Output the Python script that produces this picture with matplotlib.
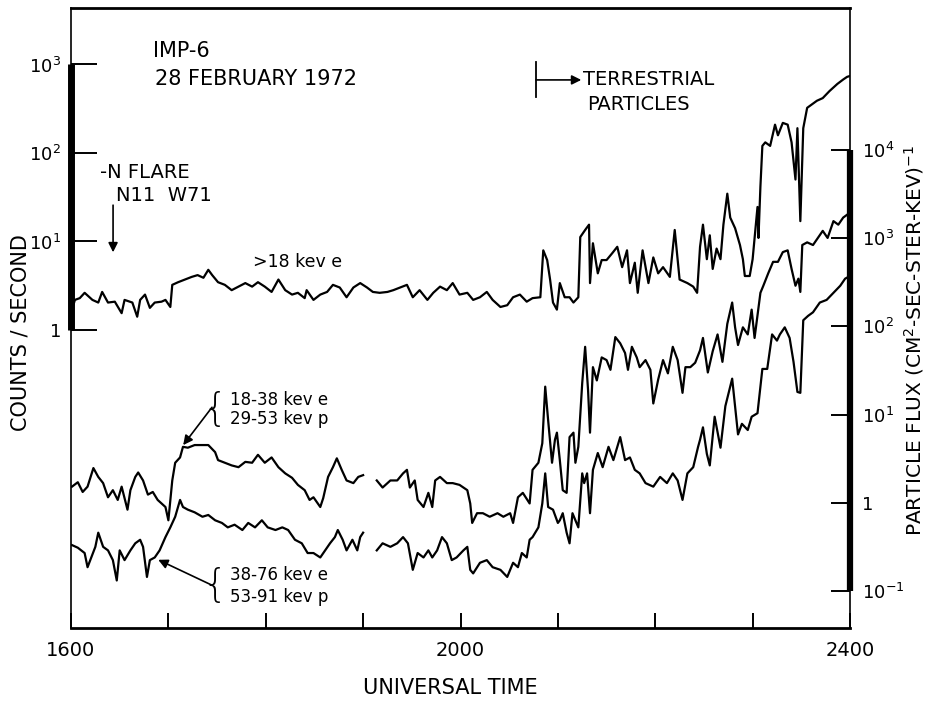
import matplotlib
matplotlib.use("Agg")
import matplotlib.pyplot as plt
from matplotlib.ticker import NullLocator
import numpy as np

plt.rcParams["font.family"] = ["DejaVu Sans"]
plt.rcParams["mathtext.default"] = "regular"

# Universal time (hhmm read linearly) and log10(counts / second)
top_t = [1601, 1604, 1609, 1614, 1622, 1628, 1632, 1638, 1645, 1652,
         1655, 1663, 1668, 1671, 1676, 1681, 1686, 1693, 1697, 1702,
         1704, 1710, 1717, 1724, 1730, 1736, 1741, 1745, 1751, 1758,
         1765, 1772, 1779, 1786, 1792, 1799, 1806, 1813, 1820, 1827,
         1833, 1840, 1842, 1849, 1856, 1863, 1869, 1876, 1883, 1890,
         1897, 1904, 1910, 1917, 1925, 1931, 1938, 1945, 1951, 1958,
         1966, 1972, 1979, 1986, 1992, 1999, 2007, 2013, 2020, 2027,
         2033, 2041, 2048, 2054, 2061, 2068, 2074, 2082, 2085, 2089,
         2092, 2095, 2099, 2102, 2107, 2112, 2116, 2121, 2123, 2128,
         2132, 2133, 2136, 2141, 2145, 2150, 2156, 2161, 2166, 2171,
         2174, 2179, 2182, 2187, 2193, 2198, 2203, 2208, 2215, 2220,
         2225, 2233, 2239, 2243, 2246, 2249, 2253, 2256, 2259, 2263,
         2267, 2270, 2274, 2277, 2282, 2287, 2290, 2292, 2297, 2300,
         2305, 2306, 2308, 2310, 2313, 2318, 2323, 2326, 2331, 2336,
         2340, 2344, 2346, 2349, 2352, 2356, 2361, 2366, 2372, 2379,
         2387, 2393, 2397, 2400]
top_log = [0.23, 0.34, 0.36, 0.42, 0.34, 0.31, 0.43, 0.31, 0.32, 0.19,
           0.34, 0.31, 0.15, 0.34, 0.40, 0.25, 0.31, 0.32, 0.34, 0.26,
           0.51, 0.54, 0.57, 0.60, 0.62, 0.59, 0.68, 0.62, 0.54, 0.51,
           0.45, 0.49, 0.53, 0.49, 0.54, 0.49, 0.43, 0.57, 0.45, 0.40,
           0.42, 0.36, 0.45, 0.34, 0.40, 0.43, 0.51, 0.48, 0.37, 0.48,
           0.53, 0.48, 0.43, 0.42, 0.43, 0.45, 0.48, 0.51, 0.37, 0.45,
           0.34, 0.42, 0.49, 0.45, 0.53, 0.40, 0.42, 0.34, 0.37, 0.43,
           0.34, 0.26, 0.28, 0.37, 0.40, 0.32, 0.36, 0.37, 0.90, 0.79,
           0.57, 0.31, 0.23, 0.53, 0.37, 0.37, 0.31, 0.37, 1.05, 1.13,
           1.19, 0.53, 0.98, 0.64, 0.79, 0.79, 0.87, 0.94, 0.71, 0.90,
           0.53, 0.76, 0.42, 0.90, 0.53, 0.82, 0.64, 0.71, 0.60, 1.13,
           0.57, 0.53, 0.49, 0.42, 0.94, 1.19, 0.80, 1.07, 0.69, 0.92,
           0.80, 1.19, 1.54, 1.27, 1.15, 0.96, 0.80, 0.61, 0.61, 0.80,
           1.39, 1.04, 1.62, 2.08, 2.12, 2.08, 2.32, 2.20, 2.34, 2.32,
           2.12, 1.70, 2.28, 1.23, 2.28, 2.51, 2.55, 2.59, 2.62, 2.70,
           2.78, 2.83, 2.86, 2.87]

mid_t = [1601, 1607, 1612, 1617, 1623, 1628, 1633, 1638, 1643, 1648,
         1652, 1658, 1661, 1666, 1669, 1674, 1679, 1684, 1689, 1697,
         1700, 1704, 1707, 1712, 1715, 1720, 1727, 1735, 1741, 1748,
         1751, 1758, 1765, 1772, 1779, 1786, 1792, 1799, 1806, 1813,
         1820, 1827, 1833, 1840, 1845, 1849, 1856, 1859, 1864, 1869,
         1873, 1878, 1883, 1890, 1895, 1900,
         1914, 1920, 1928, 1935, 1941, 1945, 1948, 1953, 1956, 1962,
         1967, 1971, 1974, 1979, 1986, 1992, 1999, 2007, 2010, 2012,
         2017, 2023, 2030, 2038, 2044, 2051, 2054, 2059, 2064, 2071,
         2074, 2080, 2084, 2087, 2090, 2094, 2097, 2099, 2102, 2105,
         2109, 2112, 2116, 2118, 2121, 2125, 2128, 2131, 2133, 2136,
         2140, 2145, 2150, 2154, 2159, 2164, 2169, 2172, 2176, 2181,
         2184, 2190, 2195, 2198, 2203, 2208, 2213, 2218, 2223, 2228,
         2231, 2236, 2241, 2246, 2249, 2254, 2259, 2264, 2269, 2274,
         2279, 2282, 2285, 2290, 2295, 2299, 2302, 2308, 2311, 2316,
         2321, 2326, 2331, 2336, 2340, 2344, 2347, 2349, 2351, 2356,
         2362, 2367, 2372, 2377, 2383, 2388, 2393, 2398]
mid_log = [-1.77, -1.72, -1.83, -1.77, -1.56, -1.66, -1.73, -1.89, -1.81, -1.92,
           -1.77, -2.03, -1.81, -1.66, -1.61, -1.70, -1.86, -1.83, -1.92, -2.00,
           -2.15, -1.70, -1.50, -1.44, -1.32, -1.33, -1.30, -1.30, -1.30, -1.38,
           -1.47, -1.50, -1.53, -1.55, -1.49, -1.50, -1.41, -1.50, -1.44, -1.55,
           -1.62, -1.67, -1.75, -1.81, -1.92, -1.89, -2.00, -1.90, -1.66, -1.55,
           -1.45, -1.58, -1.70, -1.73, -1.66, -1.64,
           -1.70, -1.78, -1.70, -1.70, -1.62, -1.58, -1.78, -1.70, -1.92, -2.00,
           -1.84, -2.00, -1.70, -1.66, -1.73, -1.73, -1.75, -1.81, -1.96, -2.18,
           -2.07, -2.07, -2.11, -2.07, -2.11, -2.07, -2.18, -1.89, -1.84, -1.96,
           -1.58, -1.50, -1.28, -0.64, -1.02, -1.50, -1.24, -1.16, -1.47, -1.81,
           -1.84, -1.21, -1.16, -1.50, -1.32, -0.60, -0.19, -0.68, -1.16, -0.42,
           -0.57, -0.31, -0.34, -0.45, -0.08, -0.15, -0.26, -0.45, -0.19, -0.31,
           -0.42, -0.34, -0.45, -0.83, -0.56, -0.34, -0.49, -0.19, -0.34, -0.71,
           -0.42, -0.42, -0.37, -0.23, -0.09, -0.48, -0.24, -0.05, -0.36, 0.07,
           0.31, 0.03, -0.17, 0.03, -0.05, 0.23, -0.09, 0.42, 0.50, 0.64,
           0.77, 0.77, 0.88, 0.90, 0.69, 0.50, 0.58, 0.43, 0.96, 0.99,
           0.96, 1.04, 1.12, 1.04, 1.23, 1.19, 1.27, 1.31]

low_t = [1601, 1607, 1614, 1617, 1625, 1628, 1633, 1638, 1643, 1647,
         1650, 1655, 1661, 1666, 1671, 1674, 1678, 1681, 1686, 1691,
         1697, 1702, 1707, 1712, 1715, 1720, 1727, 1735, 1741, 1748,
         1755, 1761, 1768, 1776, 1782, 1789, 1796, 1802, 1810, 1817,
         1823, 1830, 1837, 1843, 1849, 1856, 1861, 1866, 1871, 1874,
         1879, 1883, 1889, 1894, 1897, 1900,
         1914, 1920, 1928, 1935, 1941, 1946, 1951, 1956, 1962, 1967,
         1971, 1976, 1981, 1986, 1991, 1996, 2003, 2007, 2010, 2013,
         2020, 2027, 2033, 2041, 2048, 2054, 2059, 2063, 2068, 2071,
         2074, 2080, 2084, 2087, 2090, 2095, 2100, 2102, 2105, 2109,
         2112, 2115, 2118, 2121, 2125, 2127, 2130, 2133, 2136, 2141,
         2146, 2152, 2157, 2164, 2169, 2174, 2179, 2184, 2190, 2198,
         2205, 2212, 2218, 2223, 2228, 2233, 2239, 2244, 2246, 2249,
         2253, 2256, 2261, 2267, 2272, 2279, 2285, 2289, 2295, 2299,
         2305, 2310, 2315, 2320, 2325, 2328, 2333, 2338, 2342, 2346,
         2349, 2352, 2357, 2362, 2369, 2376, 2383, 2390, 2395, 2400]
low_log = [-2.43, -2.46, -2.52, -2.68, -2.45, -2.29, -2.45, -2.49, -2.60, -2.83,
           -2.49, -2.60, -2.49, -2.41, -2.37, -2.45, -2.79, -2.60, -2.57, -2.49,
           -2.34, -2.23, -2.11, -1.92, -2.00, -2.03, -2.06, -2.11, -2.09, -2.15,
           -2.18, -2.23, -2.20, -2.26, -2.18, -2.23, -2.15, -2.23, -2.26, -2.23,
           -2.26, -2.37, -2.41, -2.52, -2.52, -2.57, -2.49, -2.41, -2.34, -2.26,
           -2.37, -2.49, -2.37, -2.49, -2.34, -2.29,
           -2.49, -2.41, -2.45, -2.41, -2.34, -2.41, -2.71, -2.52, -2.57, -2.49,
           -2.57, -2.49, -2.34, -2.41, -2.60, -2.57, -2.49, -2.45, -2.71, -2.75,
           -2.63, -2.60, -2.68, -2.71, -2.79, -2.63, -2.68, -2.52, -2.57, -2.37,
           -2.34, -2.23, -1.96, -1.62, -2.00, -2.03, -2.18, -2.15, -2.07, -2.29,
           -2.41, -2.07, -2.15, -2.23, -1.62, -1.73, -1.62, -2.07, -1.58, -1.39,
           -1.55, -1.32, -1.47, -1.21, -1.47, -1.44, -1.58, -1.62, -1.73, -1.77,
           -1.66, -1.73, -1.62, -1.70, -1.92, -1.62, -1.55, -1.32, -1.24, -1.10,
           -1.40, -1.53, -0.98, -1.33, -0.86, -0.55, -1.18, -1.06, -1.13, -0.98,
           -0.94, -0.44, -0.44, -0.05, -0.12, -0.05, 0.03, -0.09, -0.36, -0.70,
           -0.71, 0.11, 0.16, 0.20, 0.31, 0.34, 0.42, 0.50, 0.58, 0.61]

# the two low-energy channels have a data gap around 1900-1914 UT
GAP_AFTER = 1907

x_ticks = list(range(1600, 2401, 100))
x_labels = ["1600", "", "", "", "2000", "", "", "", "2400"]
left_ticks = [1, 10, 100, 1000]
left_labels = ["1", "$10^1$", "$10^2$", "$10^3$"]
right_ticks = [0.1, 1, 10, 100, 1000, 10000]
right_labels = ["$10^{-1}$", "1", "$10^1$", "$10^2$", "$10^3$", "$10^4$"]

LEFT_YLIM = (10 ** -3.367, 10 ** 3.638)
RIGHT_YLIM = (10 ** -1.42, 10 ** 5.61)

fig = plt.figure(figsize=(9.3, 7.01), dpi=100)
ax = fig.add_axes([71 / 930, 1 - 628 / 701, 779 / 930, 620 / 701])

trace = dict(color="black", lw=1.6)
ax.plot(top_t, 10.0 ** np.array(top_log), **trace)
for t, v in ((mid_t, mid_log), (low_t, low_log)):
    t = np.array(t)
    v = 10.0 ** np.array(v)
    early = t < GAP_AFTER
    ax.plot(t[early], v[early], **trace)
    ax.plot(t[~early], v[~early], **trace)

ax.set_xlim(1600, 2400)
ax.set_yscale("log")
ax.set_ylim(*LEFT_YLIM)
ax.set_xticks(x_ticks)
ax.set_xticklabels(x_labels)
ax.set_yticks(left_ticks)
ax.set_yticklabels(left_labels)
ax.yaxis.set_minor_locator(NullLocator())
ax.tick_params(axis="x", direction="in", length=11, width=1.4, labelsize=14, pad=9)
ax.tick_params(axis="y", direction="in", length=19, width=1.4, labelsize=13, pad=7)
for side in ("left", "right"):
    ax.spines[side].set_linewidth(1.2)
for side in ("top", "bottom"):
    ax.spines[side].set_linewidth(2.0)

# heavy bar along the calibrated part of the counts scale
ax.plot([1600, 1600], [left_ticks[0], left_ticks[-1]], color="black", lw=5,
        solid_capstyle="butt", clip_on=False)

ax2 = ax.twinx()
ax2.set_yscale("log")
ax2.set_ylim(*RIGHT_YLIM)
ax2.set_yticks(right_ticks)
ax2.set_yticklabels(right_labels)
ax2.yaxis.set_minor_locator(NullLocator())
ax2.tick_params(axis="y", direction="in", length=14, width=1.4, labelsize=13, pad=9)
for side in ax2.spines:
    ax2.spines[side].set_visible(False)
ax2.plot([2400, 2400], [right_ticks[0], right_ticks[-1]], color="black", lw=4.5,
         solid_capstyle="butt", clip_on=False)

# annotations (axes fraction)
af = dict(xycoords="axes fraction")
ax.annotate("IMP-6", (0.105, 0.931), fontsize=15, va="center", **af)
ax.annotate("28 FEBRUARY 1972", (0.108, 0.885), fontsize=15, va="center", **af)

ax.annotate("-N FLARE", (0.037, 0.735), fontsize=14, va="center", **af)
ax.annotate("N11  W71", (0.058, 0.698), fontsize=14, va="center", **af)
arrow = dict(arrowstyle="-|>", color="black", lw=1.2, mutation_scale=14,
             shrinkA=0, shrinkB=0)
ax.annotate("", xy=(0.054, 0.606), xytext=(0.054, 0.682),
            textcoords="axes fraction", arrowprops=arrow, **af)

ax.annotate(">18 kev e", (0.234, 0.590), fontsize=12.5, va="center", **af)

ax.plot([0.597, 0.597], [0.856, 0.913], color="black", lw=1.3,
        transform=ax.transAxes)
ax.annotate("", xy=(0.655, 0.884), xytext=(0.597, 0.884),
            textcoords="axes fraction", arrowprops=arrow, **af)
ax.annotate("TERRESTRIAL", (0.657, 0.885), fontsize=14, va="center", **af)
ax.annotate("PARTICLES", (0.663, 0.845), fontsize=14, va="center", **af)

brace = dict(fontsize=28, ha="right", va="center", fontweight="light", **af)
ax.annotate("{", (0.2005, 0.352), **brace)
ax.annotate("18-38 kev e", (0.2045, 0.368), fontsize=12, va="center", **af)
ax.annotate("29-53 kev p", (0.2045, 0.337), fontsize=12, va="center", **af)
ax.annotate("", xy=(0.144, 0.295), xytext=(0.181, 0.356),
            textcoords="axes fraction", arrowprops=arrow, **af)

ax.annotate("{", (0.2005, 0.068), **brace)
ax.annotate("38-76 kev e", (0.2045, 0.0855), fontsize=12, va="center", **af)
ax.annotate("53-91 kev p", (0.2045, 0.050), fontsize=12, va="center", **af)
ax.annotate("", xy=(0.112, 0.110), xytext=(0.181, 0.069),
            textcoords="axes fraction", arrowprops=arrow, **af)

fig.text(21 / 930, 1 - 333 / 701, "COUNTS / SECOND", rotation=90,
         ha="center", va="center", fontsize=15)
fig.text(914 / 930, 1 - 340 / 701, "PARTICLE FLUX (CM$^2$-SEC-STER-KEV)$^{-1}$",
         rotation=90, ha="center", va="center", fontsize=14.5)
fig.text(450 / 930, 1 - 688 / 701, "UNIVERSAL TIME", ha="center", va="center",
         fontsize=15)

fig.savefig("out.png", dpi=100)
